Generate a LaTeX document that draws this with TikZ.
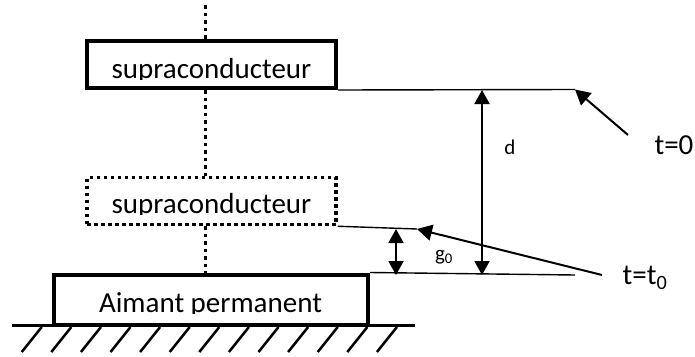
\documentclass[tikz,border=0pt]{standalone}
\usepackage{fontspec}
\setmainfont{Carlito}
\usetikzlibrary{arrows.meta}
\begin{document}
\begin{tikzpicture}[x=1pt,y=-1pt,
  box/.style={draw, line width=4pt, minimum width=249pt, minimum height=47pt, inner sep=0pt},
  dotbox/.style={box, line width=3.5pt, dash pattern=on 3.5pt off 3.5pt},
  dotline/.style={line width=3.5pt, dash pattern=on 3.5pt off 4pt},
  thinline/.style={line width=1.4pt},
  arr/.style={line width=2pt, -{Triangle[length=15pt,width=16pt]}},
  dblarr/.style={line width=2pt, {Triangle[length=14pt,width=15pt]}-{Triangle[length=14pt,width=15pt]}},
  lab/.style={font=\fontsize{29}{30}\selectfont, inner sep=0pt},
  boxtext/.style={lab, anchor=base},
  smalllab/.style={font=\fontsize{21}{22}\selectfont, inner sep=0pt},
  hatch/.style={line width=2.5pt}]
\useasboundingbox (0,0) rectangle (695,356);
% boxes
\node[box] (sc1) at (211.5,64.5) {};
\node[dotbox] (sc2) at (211.5,201) {};
\node[box, minimum width=314pt, minimum height=50pt] (mag) at (211,299.5) {};
% box texts, clipped at the baseline as in the reference
\begin{scope}
  \clip (86,40) rectangle (337,79.5);
  \node[boxtext] (sc1t) at (211.5,78) {supraconducteur};
\end{scope}
\begin{scope}
  \clip (86,176) rectangle (337,214.5);
  \node[boxtext] (sc2t) at (211.5,213) {supraconducteur};
\end{scope}
\begin{scope}
  \clip (55,275) rectangle (367,313.5);
  \node[boxtext] (magt) at (210.5,312) {Aimant permanent};
\end{scope}
% vertical dotted axis
\coordinate (axtop) at (205.5,5);
\draw[dotline] (axtop) -- (axtop |- sc1.north);
\draw[dotline] (axtop |- sc1.south) -- (axtop |- sc2.north);
\draw[dotline] (axtop |- sc2.south) -- (axtop |- mag.north);
% ground
\coordinate (g1) at (12,325);
\coordinate (g2) at (415,325);
\draw[line width=3pt] (g1) -- (g2);
\foreach \i in {0,...,12}{
  \draw[hatch] (41.7+29.6*\i,327) -- ++(-20,25);
}
% reference lines
\coordinate (e1) at (575,89.5);
\coordinate (e2) at (417,229);
\coordinate (e3) at (575,275);
\draw[thinline] (sc1.south east) -- (e1);
\draw[thinline] (sc2.south east) -- (e2);
\draw[thinline] (mag.north east) -- (e3);
% dimension arrows
\coordinate (dtop) at (482,90);
\coordinate (dbot) at (482,275);
\draw[dblarr] (dtop) -- (dbot);
\node[smalllab] (dlab) at (510,147) {d};
\coordinate (gtop) at (396,229);
\coordinate (gbot) at (396,275);
\draw[dblarr] (gtop) -- (gbot);
\node[smalllab] (glab) at (444,257) {g\textsubscript{0}};
% time labels
\node[lab] (t0) at (674,145) {t=0};
\coordinate (a1) at (628,135);
\draw[arr] (a1) -- (e1);
\node[lab] (tt0) at (645,278) {t=t\textsubscript{0}};
\coordinate (a2) at (602,275);
\draw[arr] (a2) -- (e2);
\end{tikzpicture}
\end{document}
